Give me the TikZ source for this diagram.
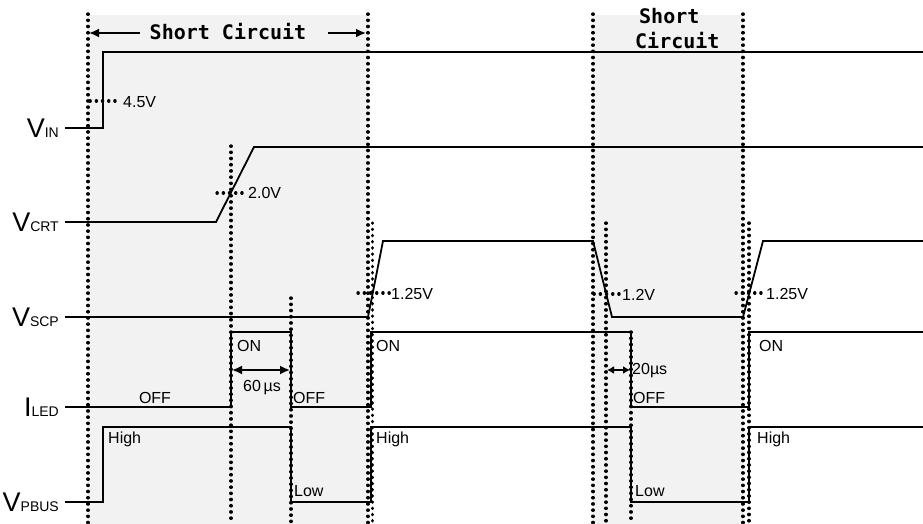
\documentclass[tikz,border=0pt]{standalone}
\usepackage{fontspec}
\setmainfont{Liberation Sans}
\newfontfamily\gothic{DejaVu Sans Mono}
\usetikzlibrary{arrows.meta}
\begin{document}
\begin{tikzpicture}[x=1pt,y=-1pt,
  sig/.style={line width=1.8pt},
  dotln/.style={line width=3.4pt,dash pattern=on 0.3pt off 5.9pt,line cap=round},
  tickln/.style={line width=3.2pt,dash pattern=on 0.3pt off 5.9pt,line cap=round},
  lbl/.style={font=\fontsize{16}{16}\selectfont,inner sep=0pt},
  sname/.style={font=\fontsize{27}{27}\selectfont,anchor=base east,inner sep=0pt},
  gt/.style={font=\gothic\bfseries\fontsize{20}{20}\selectfont,inner sep=0pt},
  dimarr/.style={line width=1.8pt,{Latex[length=10pt,width=9pt]}-{Latex[length=10pt,width=9pt]}},
  sdim/.style={line width=1.8pt,{Latex[length=7pt,width=8pt]}-{Latex[length=7pt,width=8pt]}},
  onearr/.style={line width=1.8pt,-{Latex[length=10pt,width=9pt]}}
]
\newcommand\subs[1]{{\fontsize{14}{14}\selectfont #1}}
\useasboundingbox (0,0) rectangle (923,524);
% shaded short-circuit windows
\fill[gray!10] (88,15) rectangle (368,524);
\fill[gray!10] (593,15) rectangle (743,524);

% signal names
\node[sname] (lvin)  at (59,137) {V\subs{IN}};
\node[sname] (lvcrt) at (59,231) {V\subs{CRT}};
\node[sname] (lvscp) at (59,326) {V\subs{SCP}};
\node[sname] (liled) at (59,416) {I\subs{LED}};
\node[sname] (lvpb)  at (59,511) {V\subs{PBUS}};
\coordinate (svin) at (65,128);
\coordinate (svcrt) at (65,222);
\coordinate (svscp) at (65,317);
\coordinate (siled) at (65,407);
\coordinate (svpb) at (65,502);

% waveforms
\draw[sig] (svin) -- (103,128) -- (103,52) -- (923,52);
\draw[sig] (svcrt) -- (216,222) -- (254,147) -- (923,147);
\draw[sig] (svscp) -- (368,317) -- (383,241) -- (593,241) -- (612,317) -- (743,317) -- (763,241) -- (923,241);
\draw[sig] (siled) -- (231,407) -- (231,332) -- (291,332) -- (291,407) -- (371,407) -- (371,332) -- (631,332) -- (631,407) -- (749,407) -- (749,332) -- (923,332);
\draw[sig] (svpb) -- (103,502) -- (103,427) -- (291,427) -- (291,502) -- (371,502) -- (371,427) -- (631,427) -- (631,502) -- (749,502) -- (749,427) -- (923,427);

% dotted markers
\draw[dotln] (88,14) -- (88,524);
\draw[dotln] (368,14) -- (368,524);
\draw[dotln] (231,146) -- (231,524);
\draw[dotln] (291,298) -- (291,524);
\draw[dotln] (372.5,223) -- (372.5,524);
\draw[dotln] (593,14) -- (593,524);
\draw[dotln] (606,223) -- (606,524);
\draw[dotln] (631,332) -- (631,524);
\draw[dotln] (743,14) -- (743,524);
\draw[dotln] (749,223) -- (749,524);

% threshold ticks
\draw[tickln] (90,101) -- (116,101);
\draw[tickln] (217,193) -- (245,193);
\draw[tickln] (358,293) -- (390,293);
\draw[tickln] (594,294) -- (620,294);
\draw[tickln] (736,293) -- (764,293);
\node[lbl,anchor=west] (t45) at (123,102) {4.5V};
\node[lbl,anchor=west] (t20) at (248,193) {2.0V};
\node[lbl,anchor=west] (t125a) at (391,294) {1.25V};
\node[lbl,anchor=west] (t12) at (622,295) {1.2V};
\node[lbl,anchor=west] (t125b) at (766,294) {1.25V};

% state labels
\node[lbl] (off1) at (155,398) {OFF};
\node[lbl,anchor=west] (off2) at (293,398) {OFF};
\node[lbl,anchor=west] (off3) at (633,398) {OFF};
\node[lbl,anchor=west] (on1) at (237,346) {ON};
\node[lbl,anchor=west] (on2) at (376,346) {ON};
\node[lbl,anchor=west] (on3) at (759,346) {ON};
\node[lbl,anchor=west] (hi1) at (108,439) {High};
\node[lbl,anchor=west] (hi2) at (376,439) {High};
\node[lbl,anchor=west] (hi3) at (757,439) {High};
\node[lbl,anchor=west] (lo1) at (294,491) {Low};
\node[lbl,anchor=west] (lo2) at (635,491) {Low};

% time spans
\coordinate (a60l) at (232,370);
\coordinate (a60r) at (290,370);
\draw[dimarr] (a60l) -- (a60r);
\node[lbl] (d60) at (262,388) {60\,µs};
\coordinate (a20l) at (607,370);
\coordinate (a20r) at (630,370);
\draw[sdim] (a20l) -- (a20r);
\node[lbl,anchor=west] (d20) at (632,371) {20µs};

% short circuit headers
\node[gt] (sc1) at (228,32) {Short Circuit};
\coordinate (sc1l) at (89,33);
\coordinate (sc1r) at (366,33);
\draw[onearr] (140,33) -- (sc1l);
\draw[onearr] (328,33) -- (sc1r);
\node[gt,anchor=west] (sc2a) at (639,16) {Short};
\node[gt,anchor=west] (sc2b) at (635,41) {Circuit};
\end{tikzpicture}
\end{document}
